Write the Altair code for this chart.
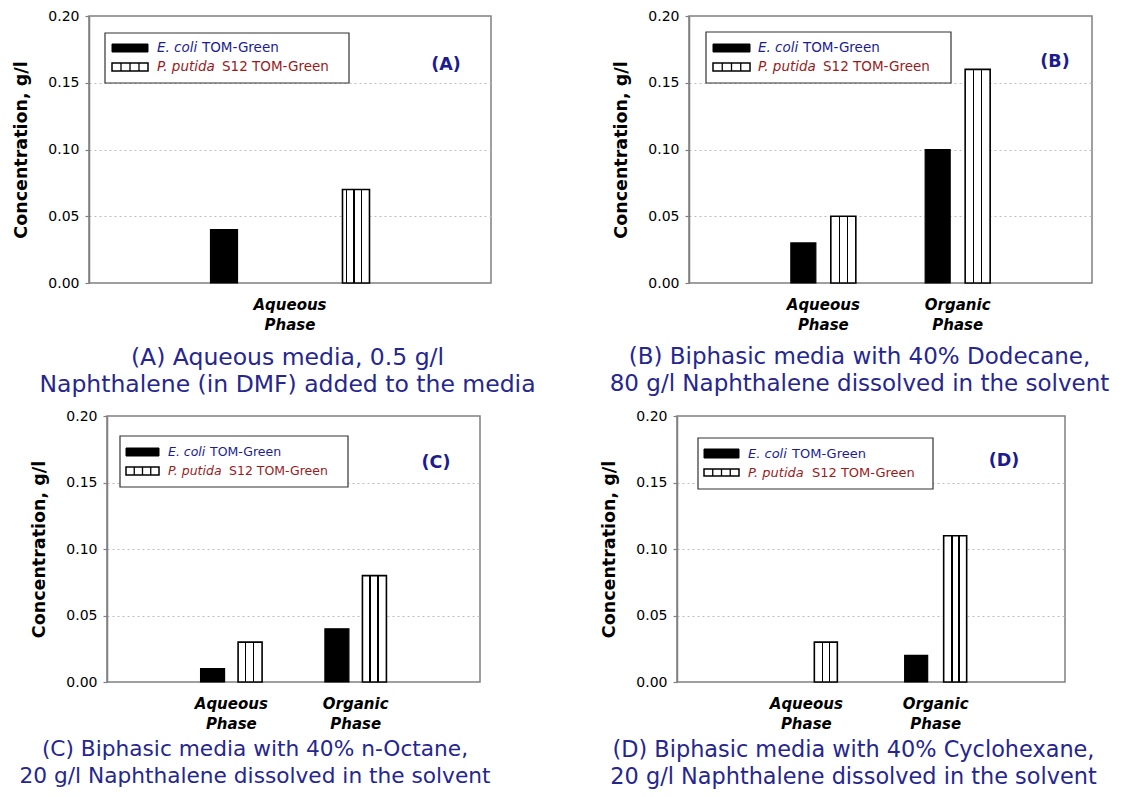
import altair as alt
import pandas as pd

# ---------------- data ----------------
STRAINS = ["E. coli TOM-Green", "P. putida S12 TOM-Green"]
LEGEND_ITALIC = ["E. coli", "P. putida"]
LEGEND_PLAIN = ["TOM-Green", "S12 TOM-Green"]

PHASES_A = ["Aqueous Phase"]
PHASES_BCD = ["Aqueous Phase", "Organic Phase"]

ECOLI_A = [0.04]
PPUTIDA_A = [0.07]
ECOLI_B = [0.03, 0.10]
PPUTIDA_B = [0.05, 0.16]
ECOLI_C = [0.01, 0.04]
PPUTIDA_C = [0.03, 0.08]
ECOLI_D = [0.00, 0.02]
PPUTIDA_D = [0.03, 0.11]

Y_TICKS = [0.00, 0.05, 0.10, 0.15, 0.20]
Y_TITLE = "Concentration, g/l"
PANEL_LABELS = ["(A)", "(B)", "(C)", "(D)"]
CAPTIONS = [
    ["(A) Aqueous media, 0.5 g/l", "Naphthalene (in DMF) added to the media"],
    ["(B) Biphasic media with 40% Dodecane,", "80 g/l Naphthalene dissolved in the solvent"],
    ["(C) Biphasic media with 40% n-Octane,", "20 g/l Naphthalene dissolved in the solvent"],
    ["(D) Biphasic media with 40% Cyclohexane,", "20 g/l Naphthalene dissolved in the solvent"],
]

# ---------------- style / layout ----------------
FONT = "DejaVu Sans"
NAVY = "#1c1c8e"
DARKRED = "#9a1a1a"
CAP_COLOR = "#26268f"
FRAME = "#808080"

LAYOUT = {
    "A": dict(w=402, h=267, x_po=0.0, off_po=0.523, bar=27, stripes=[0.148, 0.426, 0.704],
              box=(16, 260, 17, 67), sw=(23, 59, 28, 36, 47, 55), tx=(68, 113, 133), ty=(32, 51),
              lfs=13.5, lab=(357, 49), cap_dx=-2.5, cap_fs=23.5, cap_off=14),
    "B": dict(w=403, h=267, x_po=0.5, off_po=0.68, bar=25, stripes=[0.34, 0.66],
              box=(17, 262, 16, 67), sw=(24, 61, 28, 36, 47, 55), tx=(69, 114, 134), ty=(32, 51),
              lfs=13.5, lab=(366, 46), cap_dx=-31, cap_fs=23.0, cap_off=14),
    "C": dict(w=373, h=266, x_po=0.5, off_po=0.657, bar=24, stripes=[0.31, 0.65],
              box=(13, 241, 20, 71), sw=(19, 52, 32, 40, 51, 59), tx=(61, 103, 122), ty=(36, 55),
              lfs=12.5, lab=(329, 47), cap_dx=-38.5, cap_fs=21.7, cap_off=8),
    "D": dict(w=388, h=266, x_po=0.5, off_po=0.658, bar=23, stripes=[0.35, 0.66],
              box=(21, 256, 22, 73), sw=(27, 62, 33, 42, 53, 60), tx=(71, 115, 135), ty=(38, 57),
              lfs=13.0, lab=(327, 45), cap_dx=-17.5, cap_fs=22.4, cap_off=8),
}

ONE = pd.DataFrame({"k": [0]})


def stripe_gradient(centers, bar_w, line_w=1.6):
    half = line_w / 2.0 / bar_w
    stops = [alt.GradientStop(offset=0, color="white")]
    for c in centers:
        stops += [
            alt.GradientStop(offset=round(c - half, 4), color="white"),
            alt.GradientStop(offset=round(c - half, 4), color="black"),
            alt.GradientStop(offset=round(c + half, 4), color="black"),
            alt.GradientStop(offset=round(c + half, 4), color="white"),
        ]
    stops.append(alt.GradientStop(offset=1, color="white"))
    return alt.LinearGradient(gradient="linear", stops=stops, x1=0, x2=1, y1=0, y2=0)


def panel(key, idx, phases, ecoli, pputida):
    L = LAYOUT[key]
    df = pd.DataFrame({
        "phase": list(phases) * 2,
        "strain": [STRAINS[0]] * len(phases) + [STRAINS[1]] * len(phases),
        "value": list(ecoli) + list(pputida),
    })
    base = alt.Chart(df).transform_filter("datum.value > 0")

    x = alt.X("phase:N", sort=list(phases),
              scale=alt.Scale(paddingInner=0, paddingOuter=L["x_po"]),
              axis=alt.Axis(title=None, labelAngle=0, labelExpr="split(datum.label, ' ')",
                            labelFont=FONT, labelFontSize=15, labelFontWeight="bold",
                            labelFontStyle="italic", labelColor="black", labelLineHeight=20,
                            labelPadding=14, ticks=False, domain=False, grid=False))
    xo = alt.XOffset("strain:N", sort=STRAINS,
                     scale=alt.Scale(domain=STRAINS, paddingInner=0, paddingOuter=L["off_po"]))
    y = alt.Y("value:Q", scale=alt.Scale(domain=[0, 0.2], nice=False, zero=True),
              axis=alt.Axis(values=Y_TICKS, format=".2f", title=Y_TITLE,
                            titleFont=FONT, titleFontSize=17.5, titleFontWeight="bold",
                            titleColor="black", titlePadding=17,
                            labelFont=FONT, labelFontSize=14, labelColor="black",
                            labelPadding=6, tickSize=4, tickColor=FRAME, tickWidth=1.2,
                            domainColor=FRAME, domainWidth=1.5,
                            grid=True, gridColor="#bdbdbd", gridDash=[2, 3], gridWidth=1,
                            gridOpacity={"condition": {"test": "datum.value > 0.001 && datum.value < 0.199",
                                                       "value": 1}, "value": 0}))

    black_bars = base.transform_filter(alt.datum.strain == STRAINS[0]).mark_bar(
        size=L["bar"], fill="black", stroke="black", strokeWidth=1.2
    ).encode(x=x, xOffset=xo, y=y)
    striped_bars = base.transform_filter(alt.datum.strain == STRAINS[1]).mark_bar(
        size=L["bar"], fill=stripe_gradient(L["stripes"], L["bar"]), stroke="black", strokeWidth=1.6
    ).encode(x=x, xOffset=xo, y=y)

    lg = alt.Chart(ONE)
    bx1, bx2, by1, by2 = L["box"]
    sx1, sx2, s1y1, s1y2, s2y1, s2y2 = L["sw"]
    box = lg.mark_rect(fill="white", stroke="#333333", strokeWidth=1.2).encode(
        x=alt.value(bx1), x2=alt.value(bx2), y=alt.value(by1), y2=alt.value(by2))
    sw1 = lg.mark_rect(fill="black", stroke="black", strokeWidth=1).encode(
        x=alt.value(sx1), x2=alt.value(sx2), y=alt.value(s1y1), y2=alt.value(s1y2))
    sw2 = lg.mark_rect(fill="white", stroke="black", strokeWidth=1.5).encode(
        x=alt.value(sx1), x2=alt.value(sx2), y=alt.value(s2y1), y2=alt.value(s2y2))
    cell = (sx2 - sx1) / 4.0
    swl = [
        lg.mark_rule(color="black", strokeWidth=1.3).encode(
            x=alt.value(sx1 + cell * k), y=alt.value(s2y1), y2=alt.value(s2y2))
        for k in (1, 2, 3)
    ]
    ix, px1, px2 = L["tx"]
    ty1, ty2 = L["ty"]
    fs = L["lfs"]
    t1a = lg.mark_text(text=LEGEND_ITALIC[0], font=FONT, fontSize=fs, fontStyle="italic",
                       color=NAVY, align="left", baseline="middle").encode(
        x=alt.value(ix), y=alt.value(ty1))
    t1b = lg.mark_text(text=LEGEND_PLAIN[0], font=FONT, fontSize=fs,
                       color=NAVY, align="left", baseline="middle").encode(
        x=alt.value(px1), y=alt.value(ty1))
    t2a = lg.mark_text(text=LEGEND_ITALIC[1], font=FONT, fontSize=fs, fontStyle="italic",
                       color=DARKRED, align="left", baseline="middle").encode(
        x=alt.value(ix), y=alt.value(ty2))
    t2b = lg.mark_text(text=LEGEND_PLAIN[1], font=FONT, fontSize=fs,
                       color=DARKRED, align="left", baseline="middle").encode(
        x=alt.value(px2), y=alt.value(ty2))
    lab = lg.mark_text(text=PANEL_LABELS[idx], font=FONT, fontSize=17.5, fontWeight="bold",
                       color=NAVY, align="center", baseline="middle").encode(
        x=alt.value(L["lab"][0]), y=alt.value(L["lab"][1]))

    layers = [black_bars, striped_bars, box, sw1, sw2, *swl, t1a, t1b, t2a, t2b, lab]

    return alt.layer(*layers).properties(
        width=L["w"], height=L["h"],
        title=alt.TitleParams(text=CAPTIONS[idx], orient="bottom", anchor="middle",
                              frame="group", dx=L["cap_dx"], font=FONT,
                              fontSize=L["cap_fs"], fontWeight="normal", color=CAP_COLOR,
                              lineHeight=27, offset=L["cap_off"]),
    )


pA = panel("A", 0, PHASES_A, ECOLI_A, PPUTIDA_A)
pB = panel("B", 1, PHASES_BCD, ECOLI_B, PPUTIDA_B)
pC = panel("C", 2, PHASES_BCD, ECOLI_C, PPUTIDA_C)
pD = panel("D", 3, PHASES_BCD, ECOLI_D, PPUTIDA_D)

# invisible spacer that shifts panel C to the right of panel A
spacer = alt.Chart(ONE).mark_point(opacity=0).encode(
    x=alt.value(0), y=alt.value(0)
).properties(width=18, height=10, view=alt.ViewBackground(stroke="transparent"))

IND = dict(x="independent", xOffset="independent", y="independent")

top = alt.hconcat(pA, pB, spacing=198, bounds="flush").resolve_scale(**IND)
bottom_inner = alt.hconcat(pC, pD, spacing=197, bounds="flush").resolve_scale(**IND)
bottom = alt.hconcat(spacer, bottom_inner, spacing=0, bounds="flush").resolve_scale(**IND)

chart = alt.vconcat(top, bottom, spacing=10).resolve_scale(**IND).properties(
    padding={"left": 4, "top": 0, "right": 0, "bottom": 0}
).configure_view(stroke=FRAME, strokeWidth=1.5)

chart.save("out.html", embed_options={"renderer": "svg", "actions": False})
